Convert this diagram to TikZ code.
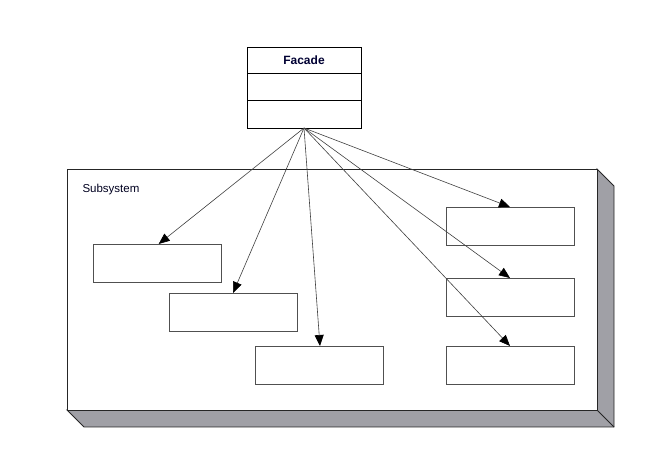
\documentclass[tikz,border=0pt]{standalone}
\usepackage{fontspec}
\setmainfont{Liberation Sans}
\usetikzlibrary{arrows.meta}
\definecolor{pkggray}{HTML}{A0A0A6}
\definecolor{boxline}{HTML}{505050}
\tikzset{
  classbox/.style={draw=boxline, line width=1.3pt, fill=white, minimum width=128pt, minimum height=38pt, inner sep=0pt},
  assoc/.style={draw=black!75, line width=0.6pt, -{Triangle[length=11pt,width=9pt,color=black]}},
}
\begin{document}
\begin{tikzpicture}[x=1pt,y=-1pt]
\useasboundingbox (0,0) rectangle (657,470);
% 3D subsystem package
\filldraw[fill=pkggray, draw=black!85, line width=0.9pt] (597,169) -- (614,186) -- (614,427) -- (84,427) -- (67,410) -- (597,410) -- cycle;
\draw[black!85, line width=0.9pt] (597,410) -- (614,427);
\node[draw=black!85, line width=1pt, fill=white, minimum width=530pt, minimum height=241pt, inner sep=0pt, anchor=north west] (sub) at (67,169) {};
\node[anchor=west, text=black!75!blue!50!black, font=\fontsize{11.5}{13}\selectfont] (lbl) at (79,190) {Subsystem};
% Facade class
\node[draw=black, line width=1pt, fill=white, minimum width=114pt, minimum height=81pt, inner sep=0pt, anchor=north west] (facade) at (247,47) {};
\draw[black, line width=1pt] (247,74) -- (361,74);
\draw[black, line width=1pt] (247,101) -- (361,101);
\node[font=\bfseries\fontsize{12}{14}\selectfont, text=black!80!blue] (ftitle) at (304,60.5) {Facade};
\coordinate (src) at (304,128);
% subsystem classes
\node[classbox, anchor=north west] (c1) at (93,244) {};
\node[classbox, anchor=north west] (c2) at (169,293) {};
\node[classbox, anchor=north west] (c3) at (255,346) {};
\node[classbox, anchor=north west] (c4) at (446,207) {};
\node[classbox, anchor=north west] (c5) at (446,278) {};
\node[classbox, anchor=north west] (c6) at (446,346) {};
% associations
\draw[assoc] (src) -- ([xshift=1pt]c1.north);
\draw[assoc] (src) -- (c2.north west -| 233,0);
\draw[assoc] (src) -- (c3.north west -| 320,0);
\draw[assoc] (src) -- (c4.north west -| 510,0);
\draw[assoc] (src) -- (c5.north west -| 510,0);
\draw[assoc] (src) -- (c6.north west -| 510,0);
\end{tikzpicture}
\end{document}
